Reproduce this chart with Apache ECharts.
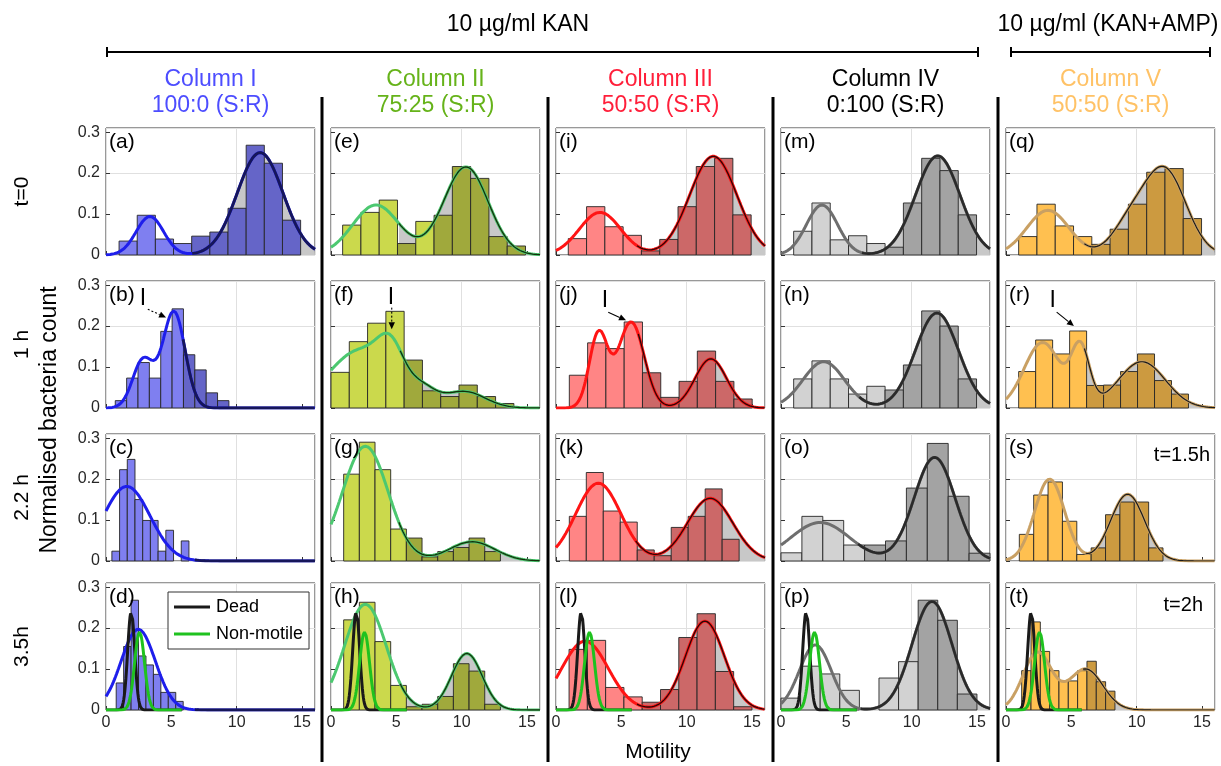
<!DOCTYPE html>
<html><head><meta charset="utf-8">
<script src="https://cdn.jsdelivr.net/npm/echarts@6/dist/echarts.min.js"></script>
<style>html,body{margin:0;padding:0;background:#fff}#c{width:1221px;height:766px}</style>
</head><body><div id="c"></div>
<script>
// ---------- data (panels a..t: column by column, rows top->bottom) ----------
const panelIds = ['a','b','c','d','e','f','g','h','i','j','k','l','m','n','o','p','q','r','s','t'];
const binStart = [1.0,0.71,0.45,0.78, 0.89,0,0.97,0.97, 0.94,1.02,1.02,1.0, 0.97,0.97,0,0, 0.97,0.97,1.02,1.2];
const binWidth = [1.39,0.87,0.59,0.57, 1.4,1.4,1.2,1.2, 1.4,1.4,1.3,1.4, 1.4,1.4,1.6,1.5, 1.4,1.3,1.1,0.714];
const binHeights = [
  [0.034,0.097,0.039,0.028,0.046,0.056,0.114,0.268,0.224,0.085],
  [0.018,0.073,0.111,0.073,0.187,0.242,0.13,0.093,0.037,0.018],
  [0.024,0.223,0.248,0.15,0.099,0.099,0.024,0.075,0,0.049],
  [0.066,0.155,0.268,0.132,0.11,0.087,0.043,0.043,0.021],
  [0.073,0.104,0.134,0.028,0.082,0.097,0.216,0.187,0.045,0.022],
  [0.087,0.162,0.207,0.236,0.117,0.042,0.028,0.056,0.028,0.011],
  [0.212,0.29,0.223,0.078,0.056,0.01,0.023,0.033,0.056,0.023],
  [0.22,0.263,0.167,0.06,0.008,0.014,0.033,0.113,0.095,0.014],
  [0.04,0.118,0.069,0.048,0.01,0.038,0.118,0.216,0.236,0.098],
  [0.08,0.159,0.145,0.21,0.086,0.026,0.065,0.139,0.065,0.022],
  [0.109,0.216,0.122,0.095,0.027,0.013,0.082,0.109,0.176,0.053],
  [0.148,0.17,0.055,0.032,0.019,0.05,0.177,0.235,0.094,0.008],
  [0.058,0.127,0.037,0.047,0.028,0.019,0.127,0.236,0.206,0.098],
  [0.071,0.115,0.071,0.034,0.053,0.044,0.105,0.237,0.2,0.071],
  [0.02,0.109,0.099,0.039,0.039,0.049,0.178,0.287,0.158,0.019],
  [0.029,0.107,0.088,0.048,0,0.078,0.118,0.268,0.219,0.039],
  [0.045,0.124,0.071,0.045,0.026,0.063,0.124,0.202,0.211,0.089],
  [0.089,0.166,0.132,0.188,0.055,0.056,0.089,0.132,0.067,0.034],
  [0.065,0.161,0.193,0.097,0.016,0.032,0.113,0.144,0.144,0.032],
  [0.096,0.215,0.143,0.096,0.071,0.071,0.096,0.119,0.069,0.046]
];
// L = sensitive (light) bin, D = resistant (dark) bin
const binShade = ['LLLLDDDDDD','LLLLLLDDDD','LLLLLLLLLL','LLLLLLLLL',
  'LLLDLDDDDD','LLLLDDDDDD','LLLLDDDDDD','LLLLDDDDDD',
  'LLLLDDDDDD','LLLLDDDDDD','LLLLDDDDDD','LLLLDDDDDD',
  'LLLLLDDDDD','LLLLLDDDDD','LLLLDDDDDD','LLLLLLLDDD',
  'LLLLDDDDDD','LLLLDDDDDD','LLLLLDDDDD','LLLLLLLDDD'];
// fitted mixture curves: [peak height, centre, width] per component
const fitComponents = [
  [[0.094,3.36,1.05],[0.25,11.8,1.75]],
  [[0.118,2.85,0.8],[0.235,5.2,0.85]],
  [[0.182,1.59,1.78]],
  [[0.197,2.47,1.31]],
  [[0.122,3.44,1.78],[0.215,10.33,1.7]],
  [[0.14,2.2,2.4],[0.09,4.6,1.0],[0.035,7.0,1.0],[0.04,10.2,1.6]],
  [[0.28,2.63,1.74],[0.047,10.8,1.75]],
  [[0.258,2.63,1.6],[0.138,10.4,1.17]],
  [[0.104,3.37,1.59],[0.241,12.04,1.81]],
  [[0.18,3.25,0.7],[0.21,5.75,1.0],[0.12,11.85,1.2]],
  [[0.19,3.24,1.73],[0.153,11.8,1.74]],
  [[0.168,2.22,1.78],[0.217,11.4,1.49]],
  [[0.122,3.14,1.2],[0.242,12.0,1.7]],
  [[0.113,3.27,1.6],[0.232,11.94,1.65]],
  [[0.094,3.0,2.26],[0.253,11.76,1.57]],
  [[0.159,2.63,1.22],[0.265,11.56,1.53]],
  [[0.109,3.21,1.62],[0.21,12.1,1.65],[0.06,9.3,1.3]],
  [[0.16,2.8,1.4],[0.14,5.7,0.7],[0.113,10.4,1.8]],
  [[0.2,3.34,1.15],[0.163,9.31,1.3]],
  [[0.14,2.4,1.1],[0.1,6.1,1.3]]
];
// motility where the fitted curve changes from the sensitive to the resistant colour
const fitSplit = [6.6,5.9,6.8,6.8, 5.2,5.3,5.2,5.3, 6.2,6.3,6.1,6.2, 6.2,6.0,5.9,6.1, 6.0,6.0,6.1,5.9];
const deadFit = [[0.24,1.93,0.27]];
const nonMotileFit = [[0.19,2.57,0.38]];
const deadRange = [0, 5.8];
const xTicks = [0,5,10,15];
const yTicks = [0,0.1,0.2,0.3];
const columnTitles = ['Column I','Column II','Column III','Column IV','Column V'];
const columnRatios = ['100:0 (S:R)','75:25 (S:R)','50:50 (S:R)','0:100 (S:R)','50:50 (S:R)'];
const rowLabels = ['t=0','1 h','2.2 h','3.5h'];
const treatmentLabels = ['10 µg/ml KAN','10 µg/ml (KAN+AMP)'];

// ---------- styling ----------
const FONT = "'Liberation Sans', Arial, Helvetica, sans-serif";
const colLeft = [106,331,556,781,1006];
const rowTop = [128,281,434,583];
const PW = 209, PH = 127, XMAX = 16, YMAX = 0.31;
const titleColor = ['#4d4dff','#66b31a','#ff1f3a','#000000','#ffc266'];
const barLight = ['#7f7ff0','#cbd94c','#ff8585','#d2d2d2','#ffc050'];
const barDark  = ['#6565c8','#a0a93c','#cc6868','#a3a3a3','#cc9a40'];
const lineLight = ['#1e1eeb','#4cc870','#ff1414','#6e6e6e','#c9a063'];
const lineDark  = ['#16165a','#14300c','#2a0808','#2a2a2a','#1a1a1a'];
const darkWidth = [2.8,1.3,1.3,2.6,1.2];

function mix(comps, x){ let s=0; for(const c of comps){ const d=x-c[1]; s+=c[0]*Math.exp(-d*d/(2*c[2]*c[2])); } return s; }
function curve(comps, x0, x1){ const pts=[]; if(x1<=x0) return pts; const n=Math.max(2,Math.round((x1-x0)/0.04)); for(let i=0;i<=n;i++){ const x=x0+(x1-x0)*i/n; pts.push([x, mix(comps,x)]);} return pts; }

const grids=[], xAxes=[], yAxes=[], series=[];
panelIds.forEach((id,p)=>{
  const c=Math.floor(p/4), r=p%4;
  grids.push({left:colLeft[c], top:rowTop[r], width:PW, height:PH, show:true, borderColor:'#333', borderWidth:1, backgroundColor:'#fff', outerBoundsMode:'none', containLabel:false});
  const tickStyle={show:true, inside:true, length:4, lineStyle:{color:'#333', width:1}};
  xAxes.push({gridIndex:p, type:'value', min:0, max:XMAX, axisLine:{show:false},
    axisTick:Object.assign({customValues:xTicks}, tickStyle),
    axisLabel:{show:r===3, customValues:xTicks, margin:5, fontSize:16, fontFamily:FONT, color:'#262626'},
    splitLine:{show:false}});
  xAxes.push({gridIndex:p, type:'value', min:0, max:XMAX, interval:10, show:true, axisLine:{show:false}, axisTick:{show:false}, axisLabel:{show:false},
    splitLine:{show:true, lineStyle:{color:'#e0e0e0', width:1}}});
  yAxes.push({gridIndex:p, type:'value', min:0, max:YMAX, axisLine:{show:false},
    axisTick:Object.assign({customValues:yTicks}, tickStyle),
    axisLabel:{show:c===0, customValues:yTicks, margin:6, fontSize:16, fontFamily:FONT, color:'#262626', formatter:v=>String(Math.round(v*10)/10)},
    splitLine:{show:false}});
  yAxes.push({gridIndex:p, type:'value', min:0, max:YMAX, interval:0.2, show:true, axisLine:{show:false}, axisTick:{show:false}, axisLabel:{show:false},
    splitLine:{show:true, lineStyle:{color:'#e0e0e0', width:1}}});
  const xi=2*p, yi=2*p;
  const comps=fitComponents[p], split=Math.min(fitSplit[p], XMAX);
  series.push({type:'line', xAxisIndex:xi, yAxisIndex:yi, z:1, silent:true, symbol:'none', data:curve(comps, split, XMAX),
    lineStyle:{width:0}, areaStyle:{color:'#c8c8c8', opacity:1}});
  const bars=binHeights[p].map((h,i)=>[binStart[p]+i*binWidth[p], binStart[p]+(i+1)*binWidth[p], h, binShade[p][i]==='D'?1:0]);
  const L=barLight[c], D=barDark[c];
  series.push({type:'custom', xAxisIndex:xi, yAxisIndex:yi, z:2, silent:true, data:bars, encode:{x:[0,1], y:2},
    renderItem:(params, api)=>{
      const h=api.value(2); if(!(h>0)) return null;
      const p0=api.coord([api.value(0), h]), p1=api.coord([api.value(1), 0]);
      return {type:'rect', shape:{x:p0[0], y:p0[1], width:p1[0]-p0[0], height:p1[1]-p0[1]},
        style:{fill: api.value(3)?D:L, stroke:'#262626', lineWidth:0.9}};
    }});
  series.push({type:'line', xAxisIndex:xi, yAxisIndex:yi, z:3, silent:true, symbol:'none', data:curve(comps, 0, XMAX),
    lineStyle:{color:lineLight[c], width:3}});
  series.push({type:'line', xAxisIndex:xi, yAxisIndex:yi, z:4, silent:true, symbol:'none', data:curve(comps, split, XMAX),
    lineStyle:{color:lineDark[c], width:darkWidth[c]}});
  if(r===3){
    series.push({name:'Dead', type:'line', xAxisIndex:xi, yAxisIndex:yi, z:5, silent:true, symbol:'none', data:curve(deadFit, deadRange[0], deadRange[1]),
      lineStyle:{color:'#1a1a1a', width:3}, itemStyle:{color:'#1a1a1a'}});
    series.push({name:'Non-motile', type:'line', xAxisIndex:xi, yAxisIndex:yi, z:5, silent:true, symbol:'none', data:curve(nonMotileFit, deadRange[0], deadRange[1]),
      lineStyle:{color:'#1fc21f', width:3}, itemStyle:{color:'#1fc21f'}});
  }
});

const chart=echarts.init(document.getElementById('c'), null, {renderer:'canvas'});
chart.setOption({
  animation:false, backgroundColor:'#fff',
  grid:grids, xAxis:xAxes, yAxis:yAxes, series:series,
  legend:{show:true, data:[{name:'Dead', icon:'rect'},{name:'Non-motile', icon:'rect'}], orient:'vertical', left:168, top:592, z:10,
    itemWidth:36, itemHeight:3, itemGap:9, padding:[6,6,6,6], backgroundColor:'#fff', borderColor:'#333', borderWidth:1, borderRadius:0,
    selectedMode:false, textStyle:{fontSize:18, fontFamily:FONT, color:'#000', padding:[0,0,0,1]}}
});

const G=[];
function txt(s, x, y, size, color, align, rot){
  G.push({type:'text', z:100, x:x, y:y, rotation:rot||0, style:{text:s, fontSize:size, fontFamily:FONT, fill:color||'#000', align:align||'center', verticalAlign:'middle'}});
}
function seg(x1,y1,x2,y2,w,color,dash){
  G.push({type:'line', z:100, shape:{x1,y1,x2,y2}, style:{stroke:color||'#000', lineWidth:w, lineDash:dash||null}});
}
txt(treatmentLabels[0], 518, 25, 23);
txt(treatmentLabels[1], 1108, 25, 23);
seg(107,52,978,52,2); seg(107,47,107,57,2); seg(978,47,978,57,2);
seg(1011,52,1210,52,2); seg(1011,47,1011,57,2); seg(1210,47,1210,57,2);
[322,548,773,998].forEach(x=>seg(x,97,x,762,3));
columnTitles.forEach((t,c)=>{ const cx=colLeft[c]+PW/2; txt(t,cx,80,23,titleColor[c]); txt(columnRatios[c],cx,106,23,titleColor[c]); });
rowLabels.forEach((t,r)=>txt(t,22,rowTop[r]+PH/2,21,'#000','center',Math.PI/2));
txt('Normalised bacteria count',50,420,23,'#000','center',Math.PI/2);
txt('Motility',658,752,21);
panelIds.forEach((id,p)=>{ const c=Math.floor(p/4), r=p%4;
  G.push({type:'text', z:100, x:colLeft[c]+3, y:rowTop[r]+4, style:{text:'('+id+')', fontSize:21, fontFamily:FONT, fill:'#000', align:'left', verticalAlign:'top'}}); });
txt('t=1.5h', colLeft[4]+PW-5, rowTop[2]+21, 20, '#000', 'right');
txt('t=2h', colLeft[4]+PW-12, rowTop[3]+22, 20, '#000', 'right');
const arrows=[
  [1,[2.83,0.266],[3.2,0.241],[4.6,0.221],true],
  [5,[4.59,0.269],[4.65,0.245],[4.65,0.192],true],
  [9,[3.75,0.261],[4.0,0.234],[5.36,0.214],false],
  [17,[3.58,0.263],[3.88,0.234],[5.2,0.2],false]
];
arrows.forEach(a=>{
  const g=a[0];
  const pl=chart.convertToPixel({xAxisIndex:2*g, yAxisIndex:2*g}, a[1]);
  const p0=chart.convertToPixel({xAxisIndex:2*g, yAxisIndex:2*g}, a[2]);
  const p1=chart.convertToPixel({xAxisIndex:2*g, yAxisIndex:2*g}, a[3]);
  txt('I', pl[0], pl[1], 23);
  const dx=p1[0]-p0[0], dy=p1[1]-p0[1], len=Math.hypot(dx,dy), ux=dx/len, uy=dy/len;
  const hl=7, hw=3.2, bx=p1[0]-ux*hl, by=p1[1]-uy*hl;
  seg(p0[0],p0[1],bx,by,1.1,'#000',a[4]?[2,2]:null);
  G.push({type:'polygon', z:100, shape:{points:[[p1[0],p1[1]],[bx-uy*hw,by+ux*hw],[bx+uy*hw,by-ux*hw]]}, style:{fill:'#000'}});
});
chart.setOption({graphic:{elements:G}});
</script></body></html>
